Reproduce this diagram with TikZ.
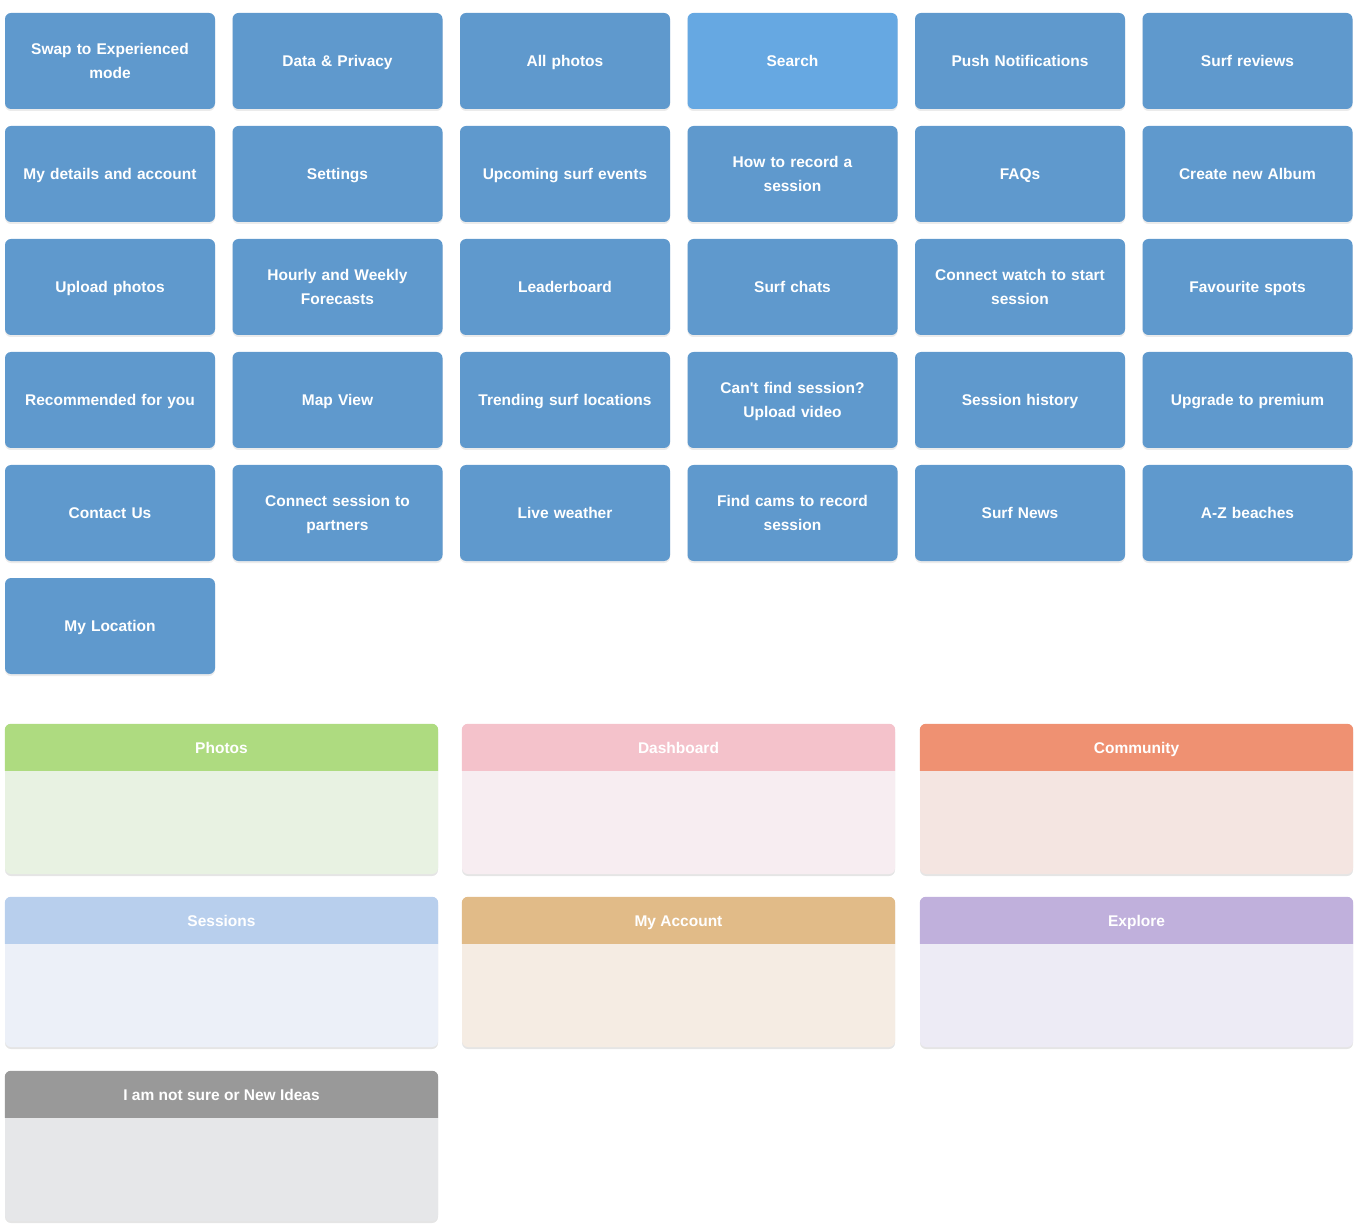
\documentclass[tikz,border=0pt]{standalone}
\usepackage{fontspec}
\setmainfont{Liberation Sans}
\usetikzlibrary{shadows}
\definecolor{cardblue}{HTML}{5F99CD}
\definecolor{searchblue}{HTML}{66A8E2}
\definecolor{phH}{HTML}{AEDB80}\definecolor{phB}{HTML}{E8F2E2}
\definecolor{dbH}{HTML}{F4C2CB}\definecolor{dbB}{HTML}{F7EDF1}
\definecolor{cmH}{HTML}{EF9172}\definecolor{cmB}{HTML}{F4E5E1}
\definecolor{seH}{HTML}{B8CFED}\definecolor{seB}{HTML}{ECF0F8}
\definecolor{maH}{HTML}{E1BB88}\definecolor{maB}{HTML}{F5ECE3}
\definecolor{exH}{HTML}{C0B0DC}\definecolor{exB}{HTML}{EDEBF5}
\definecolor{nsH}{HTML}{999999}\definecolor{nsB}{HTML}{E6E7E9}
\tikzset{
  card/.style={rectangle, rounded corners=6pt, fill=cardblue, minimum width=210pt,
    minimum height=96pt, inner sep=0pt, text=white, align=center, text width=190pt,
    text height=13pt, text depth=2pt,
    font=\fontsize{15.5}{24}\selectfont\bfseries,
    drop shadow={shadow xshift=0pt, shadow yshift=-2pt, fill=black, opacity=0.08}},
  twoline/.style={text depth=26pt},
  panel/.style={rectangle, rounded corners=6pt, minimum width=433pt, minimum height=150pt,
    inner sep=0pt, drop shadow={shadow xshift=0pt, shadow yshift=-2pt, fill=black, opacity=0.1}},
  ptitle/.style={text=white, inner sep=0pt, text height=13pt, text depth=2pt,
    font=\fontsize{15.5}{20}\selectfont\bfseries},
}
\begin{document}
\begin{tikzpicture}[x=1pt,y=-1pt]
\useasboundingbox (0,0) rectangle (1358,1230);
% row 1
\node[card, twoline] (r1c1) at (110,61) {Swap to Experienced\\mode};
\node[card] (r1c2) at (337.5,61) {Data \& Privacy};
\node[card] (r1c3) at (565,61) {All photos};
\node[card, fill=searchblue] (r1c4) at (792.5,61) {Search};
\node[card] (r1c5) at (1020,61) {Push Notifications};
\node[card] (r1c6) at (1247.5,61) {Surf reviews};
% row 2
\node[card] (r2c1) at (110,174) {My details and account};
\node[card] (r2c2) at (337.5,174) {Settings};
\node[card] (r2c3) at (565,174) {Upcoming surf events};
\node[card, twoline] (r2c4) at (792.5,174) {How to record a\\session};
\node[card] (r2c5) at (1020,174) {FAQs};
\node[card] (r2c6) at (1247.5,174) {Create new Album};
% row 3
\node[card] (r3c1) at (110,287) {Upload photos};
\node[card, twoline] (r3c2) at (337.5,287) {Hourly and Weekly\\Forecasts};
\node[card] (r3c3) at (565,287) {Leaderboard};
\node[card] (r3c4) at (792.5,287) {Surf chats};
\node[card, twoline] (r3c5) at (1020,287) {Connect watch to start\\session};
\node[card] (r3c6) at (1247.5,287) {Favourite spots};
% row 4
\node[card] (r4c1) at (110,400) {Recommended for you};
\node[card] (r4c2) at (337.5,400) {Map View};
\node[card] (r4c3) at (565,400) {Trending surf locations};
\node[card, twoline] (r4c4) at (792.5,400) {Can\textquotesingle t find session?\\Upload video};
\node[card] (r4c5) at (1020,400) {Session history};
\node[card] (r4c6) at (1247.5,400) {Upgrade to premium};
% row 5
\node[card] (r5c1) at (110,513) {Contact Us};
\node[card, twoline] (r5c2) at (337.5,513) {Connect session to\\partners};
\node[card] (r5c3) at (565,513) {Live weather};
\node[card, twoline] (r5c4) at (792.5,513) {Find cams to record\\session};
\node[card] (r5c5) at (1020,513) {Surf News};
\node[card] (r5c6) at (1247.5,513) {A-Z beaches};
% row 6
\node[card] (r6c1) at (110,626) {My Location};
% panels
\foreach \nm/\x/\y/\hc/\bc/\tt in {
  photos/221.5/799/phH/phB/Photos,
  dashboard/678.5/799/dbH/dbB/Dashboard,
  community/1136.5/799/cmH/cmB/Community,
  sessions/221.5/972/seH/seB/Sessions,
  myaccount/678.5/972/maH/maB/My Account,
  explore/1136.5/972/exH/exB/Explore,
  notsure/221.5/1146/nsH/nsB/I am not sure or New Ideas}{
  \node[panel, fill=\bc] (\nm) at (\x,\y) {};
  \fill[\hc] ([yshift=-47pt]\nm.north west) [rounded corners=6pt] -- (\nm.north west)
     -- (\nm.north east) [sharp corners] -- ([yshift=-47pt]\nm.north east) -- cycle;
  \node[ptitle] (\nm-title) at ([yshift=-24pt]\nm.north) {\tt};
}
\end{tikzpicture}
\end{document}
